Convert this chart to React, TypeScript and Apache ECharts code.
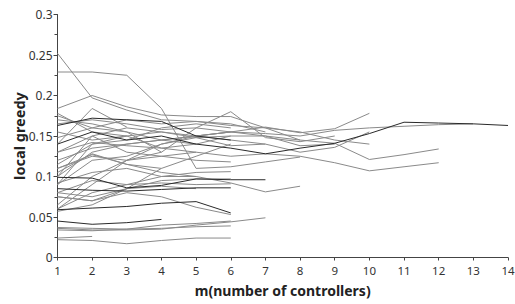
import React, { useEffect, useRef } from "react";
import * as echarts from "echarts";

const mValues = [1, 2, 3, 4, 5, 6, 7, 8, 9, 10, 11, 12, 13, 14];
const yTicks = [0, 0.05, 0.1, 0.15, 0.2, 0.25, 0.3];

// each list starts at m = 1
const s01 = [0.14, 0.155, 0.145, 0.15, 0.14, 0.135, 0.128, 0.135, 0.141, 0.153, 0.167, 0.166, 0.165, 0.163];
const s02 = [0.12, 0.135, 0.14, 0.145, 0.15, 0.155, 0.153, 0.15, 0.157, 0.16, 0.162, 0.164, 0.165];
const s03 = [0.165, 0.17, 0.165, 0.158, 0.16, 0.155, 0.15, 0.145, 0.141, 0.121, 0.127, 0.134];
const s04 = [0.13, 0.142, 0.138, 0.135, 0.13, 0.125, 0.128, 0.125, 0.117, 0.107, 0.112, 0.117];
const s05 = [0.1, 0.13, 0.14, 0.145, 0.15, 0.155, 0.161, 0.154, 0.159, 0.178];
const s06 = [0.09, 0.12, 0.125, 0.14, 0.148, 0.138, 0.14, 0.13, 0.136, 0.155];
const s07 = [0.148, 0.16, 0.17, 0.165, 0.168, 0.163, 0.16, 0.155, 0.145, 0.14];
const s08 = [0.11, 0.125, 0.12, 0.13, 0.16, 0.18, 0.148, 0.143, 0.15];
const s09 = [0.175, 0.16, 0.155, 0.145, 0.14, 0.15, 0.15, 0.138, 0.14];
const s10 = [0.092, 0.105, 0.11, 0.1, 0.1, 0.092, 0.081, 0.088];
const s11 = [0.184, 0.2, 0.186, 0.176, 0.174, 0.174, 0.16, 0.145];
const s12 = [0.252, 0.197, 0.182, 0.17, 0.168, 0.165, 0.155];
const s13 = [0.229, 0.229, 0.225, 0.184, 0.11, 0.112, 0.118, 0.124];
const s14 = [0.036, 0.034, 0.034, 0.035, 0.04, 0.044, 0.049];
const s15 = [0.099, 0.098, 0.086, 0.089, 0.097, 0.096, 0.096];
const s16 = [0.085, 0.083, 0.082, 0.084, 0.086, 0.086];
const s17 = [0.059, 0.061, 0.063, 0.067, 0.069, 0.055];
const s18 = [0.075, 0.07, 0.08, 0.075, 0.062, 0.053];
const s19 = [0.037, 0.036, 0.035, 0.036, 0.038, 0.039];
const s20 = [0.022, 0.021, 0.017, 0.021, 0.024, 0.024];
const s21 = [0.024, 0.026];
const s22 = [0.045, 0.041, 0.043, 0.047];
const s23 = [0.08, 0.095, 0.09, 0.1, 0.105, 0.106];
const s24 = [0.075, 0.07, 0.085, 0.095, 0.097, 0.097];
const s25 = [0.06, 0.08, 0.09, 0.092, 0.09, 0.091];
const s26 = [0.065, 0.1, 0.12, 0.125, 0.13];
const s27 = [0.11, 0.127, 0.115, 0.105, 0.1];
const s28 = [0.057, 0.065, 0.085, 0.11, 0.125, 0.14];
const s29 = [0.06, 0.09, 0.12, 0.14, 0.15, 0.155];
const s30 = [0.09, 0.14, 0.145, 0.16, 0.165, 0.16];
const s31 = [0.1, 0.15, 0.13, 0.125, 0.12, 0.118];
const s32 = [0.17, 0.165, 0.155, 0.13];
const s33 = [0.178, 0.155, 0.15, 0.135, 0.14];
const s34 = [0.163, 0.172, 0.17, 0.168, 0.15, 0.145];
const s35 = [0.14, 0.184, 0.161];
const s36 = [0.115, 0.14, 0.15, 0.155, 0.148, 0.15];
const s37 = [0.13, 0.15, 0.16, 0.155, 0.15, 0.145, 0.14];
const s38 = [0.155, 0.145, 0.15];
const s39 = [0.08, 0.075, 0.085, 0.088, 0.085];
const s40 = [0.105, 0.128, 0.115, 0.11];
const s41 = [0.034, 0.033, 0.035, 0.04, 0.042, 0.045];

const grayLines = [s02, s03, s04, s05, s06, s07, s08, s09, s10, s11, s12, s13, s14, s18, s19, s20, s21, s23, s24, s25, s26, s27, s28, s29, s30, s31, s32, s33, s35, s36, s37, s38, s39, s40, s41];
const darkLines = [s01, s15, s16, s17, s22, s34];

export default function App() {
  const ref = useRef<HTMLDivElement>(null);
  useEffect(() => {
    if (!ref.current) return;
    const chart = echarts.init(ref.current, null, { renderer: "svg" });
    const mk = (vals: number[], color: string) => ({
      type: "line",
      data: vals.map((v, i) => [mValues[i], v]),
      symbol: "none",
      lineStyle: { width: 1, color },
      silent: true,
    });
    chart.setOption({
      animation: false,
      grid: { left: 57.5, right: 7, top: 14.5, bottom: 46.5, containLabel: false, outerBoundsMode: "none" },
      xAxis: {
        type: "value",
        min: 1,
        max: 14,
        interval: 1,
        name: "m(number of controllers)",
        nameLocation: "middle",
        nameGap: 26,
        nameMoveOverlap: false,
        nameTextStyle: { fontFamily: "Noto Sans", fontWeight: "bold", fontSize: 14, color: "#222" },
        axisLine: { lineStyle: { color: "#444", width: 1 } },
        axisTick: { show: true, length: 3, lineStyle: { color: "#444" } },
        splitLine: { show: false },
        axisLabel: { fontFamily: "Noto Sans", fontSize: 11.5, color: "#333", margin: 7, showMaxLabel: true },
      },
      yAxis: {
        type: "value",
        min: yTicks[0],
        max: yTicks[yTicks.length - 1],
        interval: 0.05,
        name: "local greedy",
        nameLocation: "middle",
        nameGap: 31,
        nameMoveOverlap: false,
        nameTextStyle: { fontFamily: "Noto Sans", fontWeight: "bold", fontSize: 14.5, color: "#222" },
        axisLine: { show: true, lineStyle: { color: "#444", width: 1 } },
        axisTick: { show: true, length: 4, lineStyle: { color: "#444" } },
        minorTick: { show: true, splitNumber: 2, length: 3, lineStyle: { color: "#444" } },
        splitLine: { show: false },
        axisLabel: {
          fontFamily: "Noto Sans",
          fontSize: 12,
          color: "#333",
          margin: 5,
          formatter: (v: number) => String(parseFloat(v.toFixed(2))),
        },
      },
      series: [
        ...grayLines.map((s) => mk(s, "#8a8a8a")),
        ...darkLines.map((s) => mk(s, "#2a2a2a")),
      ],
    });
    return () => chart.dispose();
  }, []);
  return <div ref={ref} style={{ position: "absolute", left: 0, top: 0, width: 515, height: 304 }} />;
}
